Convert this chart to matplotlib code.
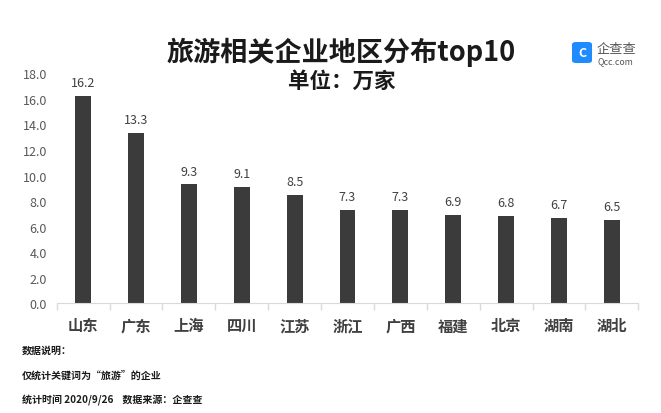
import matplotlib
matplotlib.use("Agg")
import matplotlib.pyplot as plt
from matplotlib.patches import FancyBboxPatch
import numpy as np

plt.rcParams['font.family'] = ['Noto Sans CJK SC', 'DejaVu Sans']

regions = ['山东', '广东', '上海', '四川', '江苏', '浙江', '广西', '福建', '北京', '湖南', '湖北']
counts = [16.2, 13.3, 9.3, 9.1, 8.5, 7.3, 7.3, 6.9, 6.8, 6.7, 6.5]
yticks = [0, 2, 4, 6, 8, 10, 12, 14, 16, 18]

W, H = 661, 414
fig = plt.figure(figsize=(W / 100, H / 100), dpi=100)
ax = fig.add_axes([56.7 / W, 1 - 304.3 / H, (638.3 - 56.7) / W, (304.3 - 74.3) / H])

x = np.arange(len(regions))
ax.bar(x, counts, width=0.3, color='#3b3b3b', zorder=2)
for xi, v in zip(x, counts):
    ax.annotate(f'{v:.1f}', (xi, v), xytext=(0, 5), textcoords='offset points',
                ha='center', va='bottom', fontsize=9, color='#404040')

ax.set_xlim(-0.5, len(regions) - 0.5)
ax.set_ylim(0, 18)
ax.set_yticks(yticks)
ax.set_yticklabels([f'{t:.1f}' for t in yticks], fontsize=9, color='#595959')
ax.tick_params(axis='y', length=0, pad=7)

# category labels between boundary ticks (Excel style)
ax.set_xticks(np.arange(-0.5, len(regions), 1))
ax.set_xticklabels([])
ax.tick_params(axis='x', length=5, color='#d9d9d9', width=1)
ax.set_xticks(x, minor=True)
ax.set_xticklabels(regions, minor=True, fontsize=11, color='#404040', fontweight='bold')
ax.tick_params(axis='x', which='minor', length=0, pad=10)

for s in ['top', 'right', 'left']:
    ax.spines[s].set_visible(False)
ax.spines['bottom'].set_color('#d9d9d9')

fig.text(341 / W, 1 - 52 / H, '旅游相关企业地区分布top10', ha='center', va='center',
         fontsize=19.5, fontweight='bold', color='#1a1a1a')
fig.text(342 / W, 1 - 81 / H, '单位：万家', ha='center', va='center',
         fontsize=15.5, fontweight='bold', color='#1a1a1a')

notes = ['数据说明：', '仅统计关键词为“旅游”的企业', '统计时间 2020/9/26    数据来源：企查查']
for i, t in enumerate(notes):
    fig.text(22 / W, 1 - (351 + 24.5 * i) / H, t, ha='left', va='center',
             fontsize=7.2, color='#1a1a1a', fontweight='bold')

# logo
logo = FancyBboxPatch((572 / W, 1 - 64 / H), 20 / W, 21 / H,
                      boxstyle='round,pad=0,rounding_size=0.006',
                      transform=fig.transFigure, facecolor='#1f8bff', edgecolor='none')
fig.add_artist(logo)
fig.text(582 / W, 1 - 53.5 / H, 'C', ha='center', va='center', fontsize=9,
         fontweight='bold', color='white')
fig.text(597 / W, 1 - 50 / H, '企查查', ha='left', va='center', fontsize=9.5, color='#555555')
fig.text(597 / W, 1 - 62 / H, 'Qcc.com', ha='left', va='center', fontsize=6.3, color='#555555')

fig.savefig('out.png', dpi=100)
